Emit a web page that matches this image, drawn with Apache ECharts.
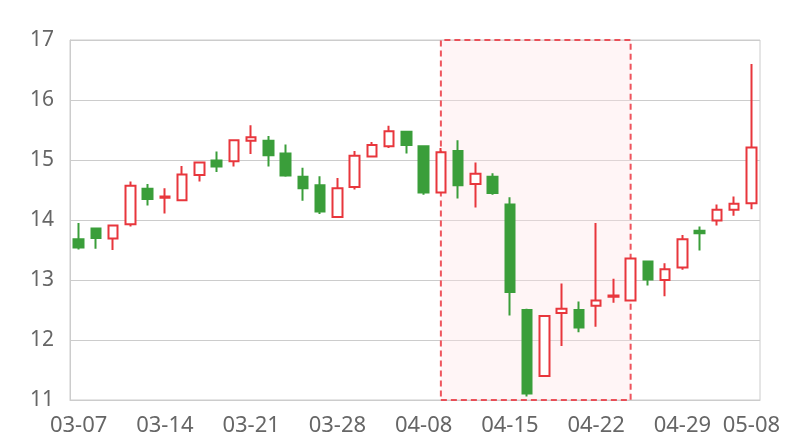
<!DOCTYPE html>
<html>
<head>
<meta charset="utf-8">
<script src="https://cdn.jsdelivr.net/npm/echarts@6/dist/echarts.min.js"></script>
<style>
html,body{margin:0;padding:0;background:#fff;}
#main{width:800px;height:440px;}
</style>
</head>
<body>
<div id="main"></div>
<script>
var dates = ['03-07','03-08','03-11','03-12','03-13','03-14','03-15','03-18','03-19','03-20',
  '03-21','03-22','03-25','03-26','03-27','03-28','03-29','04-01','04-02','04-03',
  '04-08','04-09','04-10','04-11','04-12','04-15','04-16','04-17','04-18','04-19',
  '04-22','04-23','04-24','04-25','04-26','04-29','04-30','05-06','05-07','05-08'];
var openValues  = [13.68,13.86,13.69,13.93,14.52,14.37,14.33,14.75,14.99,14.98,
  15.32,15.32,15.11,14.72,14.58,14.05,14.55,15.06,15.23,15.47,
  15.23,14.46,15.15,14.60,14.72,14.26,12.50,11.40,12.45,12.50,
  12.57,12.72,12.66,13.31,13.00,13.21,13.82,13.99,14.17,14.28];
var closeValues = [13.54,13.70,13.91,14.57,14.35,14.39,14.76,14.96,14.89,15.33,
  15.38,15.08,14.74,14.53,14.14,14.53,15.07,15.25,15.48,15.25,
  14.46,15.13,14.58,14.77,14.45,12.80,11.11,12.40,12.52,12.21,
  12.66,12.74,13.36,13.01,13.18,13.68,13.78,14.17,14.27,15.21];
var lowValues   = [13.51,13.52,13.50,13.89,14.24,14.11,14.33,14.64,14.80,14.89,
  15.10,14.89,14.72,14.32,14.10,14.04,14.51,15.06,15.20,15.11,
  14.42,14.46,14.36,14.21,14.42,12.41,11.06,11.40,11.90,12.13,
  12.22,12.62,12.66,12.91,12.73,13.17,13.49,13.91,14.07,14.18];
var highValues  = [13.95,13.86,13.91,14.64,14.60,14.53,14.90,14.96,15.14,15.33,
  15.58,15.40,15.26,14.87,14.73,14.70,15.15,15.30,15.57,15.48,
  15.23,15.20,15.33,14.96,14.78,14.38,12.52,12.40,12.94,12.64,
  13.95,13.02,13.37,13.31,13.28,13.75,13.89,14.26,14.39,16.60];
var yTicks = [11,12,13,14,15,16,17];
var highlightStart = '04-09';
var highlightEnd = '04-24';

var candleData = dates.map(function(d, i){
  return [openValues[i], closeValues[i], lowValues[i], highValues[i]];
});

var chart = echarts.init(document.getElementById('main'), null, {renderer:'canvas'});
chart.setOption({
  animation: false,
  backgroundColor: '#fff',
  grid: {left:70, right:40, top:40, bottom:40, show:true, borderColor:'#cccccc', borderWidth:1, containLabel:false},
  xAxis: {
    type: 'category',
    data: dates,
    boundaryGap: true,
    axisLine: {show:true, lineStyle:{color:'#cccccc'}},
    axisTick: {show:false},
    splitLine: {show:false},
    axisLabel: {
      interval: function(i){ return i % 5 === 0 || i === dates.length - 1; },
      color: '#666666',
      fontSize: 22,
      fontFamily: '"Noto Sans","Open Sans",sans-serif',
      margin: 15
    }
  },
  yAxis: {
    type: 'value',
    min: yTicks[0],
    max: yTicks[yTicks.length-1],
    interval: 1,
    axisLine: {show:true, lineStyle:{color:'#cccccc'}},
    axisTick: {show:false},
    splitLine: {show:true, lineStyle:{color:'#cccccc'}},
    axisLabel: {
      color: '#666666',
      fontSize: 21,
      fontFamily: '"Noto Sans","Open Sans",sans-serif',
      margin: 16
    }
  },
  series: [{
    type: 'candlestick',
    data: candleData,
    barWidth: 10,
    itemStyle: {
      color: '#ffffff',
      color0: '#3a9e3a',
      borderColor: '#e8363c',
      borderColor0: '#3a9e3a',
      borderWidth: 2
    },
    markArea: {
      silent: true,
      itemStyle: {
        color: 'rgba(255,225,230,0.35)',
        borderColor: 'rgba(235,55,65,0.85)',
        borderWidth: 2,
        borderType: [6,4]
      },
      data: [[{xAxis: highlightStart}, {xAxis: highlightEnd}]]
    }
  }]
});
</script>
</body>
</html>
